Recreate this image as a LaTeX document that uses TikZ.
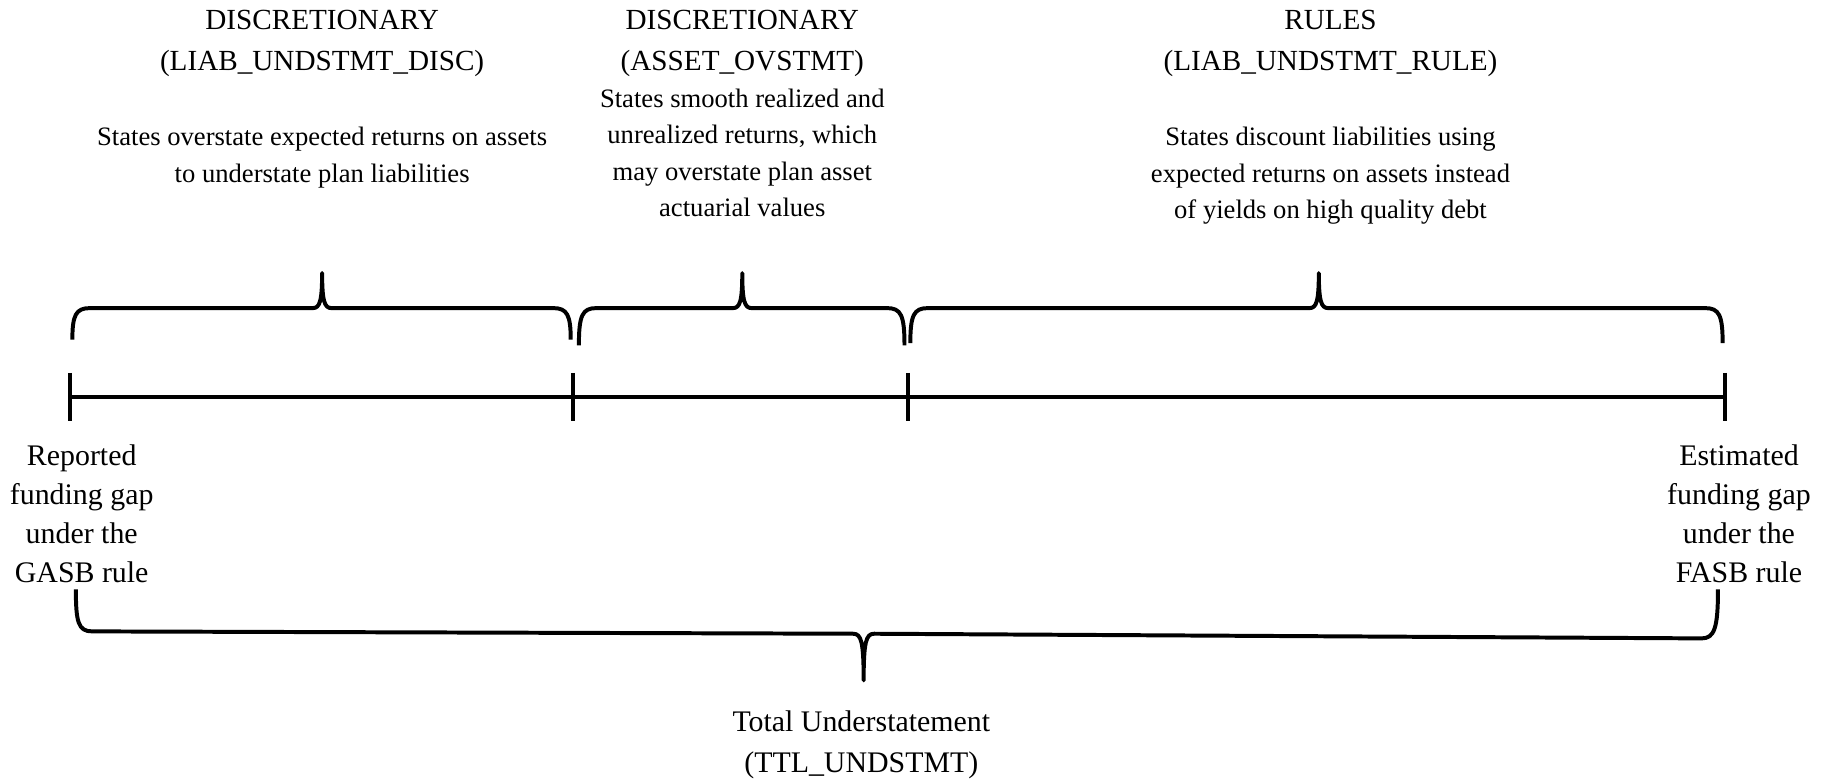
\documentclass[tikz,border=0pt]{standalone}
\usepackage{fontspec}
\setmainfont{Liberation Serif}
\usepackage{tikz}
\usetikzlibrary{positioning}
\tikzstyle{heading} = [
    align=center,
    inner sep=0pt,
    font=\fontsize{12.5}{17.5}\selectfont
]
\tikzstyle{blurb} = [
    align=center,
    inner sep=0pt,
    font=\fontsize{11.4}{15.6}\selectfont
]
\tikzstyle{gaplabel} = [
    align=center,
    inner sep=0pt,
    font=\fontsize{12.8}{16.7}\selectfont
]
\tikzstyle{axis} = [line width=1.7pt]
\tikzstyle{curly} = [line width=1.7pt, line join=round]

\begin{document}
\begin{tikzpicture}[x=0.5pt, y=-0.5pt]
    \useasboundingbox (0,0) rectangle (1568,667);
    % headings and descriptions
    \node (head1) [heading] at (276,37) {DISCRETIONARY\\(LIAB\_UNDSTMT\_DISC)};
    \node (desc1) [blurb, below=21.5pt of head1] {States overstate expected returns on assets\\to understate plan liabilities};
    \node (head2) [heading] at (636,37) {DISCRETIONARY\\(ASSET\_OVSTMT)};
    \node (desc2) [blurb, below=5pt of head2] {States smooth realized and\\unrealized returns, which\\may overstate plan asset\\actuarial values};
    \node (head3) [heading] at (1140,37) {RULES\\(LIAB\_UNDSTMT\_RULE)};
    \node (desc3) [blurb, below=21.5pt of head3] {States discount liabilities using\\expected returns on assets instead\\of yields on high quality debt};
    % the gap line
    \coordinate (t0) at (60,340);
    \coordinate (t1) at (491,340);
    \coordinate (t2) at (778,340);
    \coordinate (t3) at (1478,340);
    \draw [axis] (t0) -- (t3);
    \foreach \p in {t0,t1,t2,t3}
        \draw [axis] ([yshift=10.3pt]\p) -- ([yshift=-10.3pt]\p);
    % braces over the parts
    \foreach \a/\b/\t/\e in {62/489/276/291, 496/775/636/296, 780/1476/1130/294}
        \draw [curly] (\a,\e) .. controls (\a,270) and (\a+3,264) .. (\a+15,264)
            -- (\t-8,264) .. controls (\t-2,264) and (\t,258) .. (\t,234)
            .. controls (\t,258) and (\t+2,264) .. (\t+8,264)
            -- (\b-15,264) .. controls (\b-3,264) and (\b,270) .. (\b,\e);
    % end labels
    \node (gasb) [gaplabel] at (70,440) {Reported\\funding gap\\under the\\GASB rule};
    \node (fasb) [gaplabel] at (1490,440) {Estimated\\funding gap\\under the\\FASB rule};
    % total brace
    \draw [curly] (65,505) .. controls (65,533) and (67,541) .. (79,541)
        -- (731,543) .. controls (738,543) and (740,550) .. (740,583)
        .. controls (740,550) and (742,543) .. (749,543)
        -- (1458,547) .. controls (1469,547) and (1472,538) .. (1472,505);
    \node (total) [gaplabel, font=\fontsize{12.8}{17.5}\selectfont] at (738,638) {Total Understatement\\(TTL\_UNDSTMT)};
\end{tikzpicture}
\end{document}
